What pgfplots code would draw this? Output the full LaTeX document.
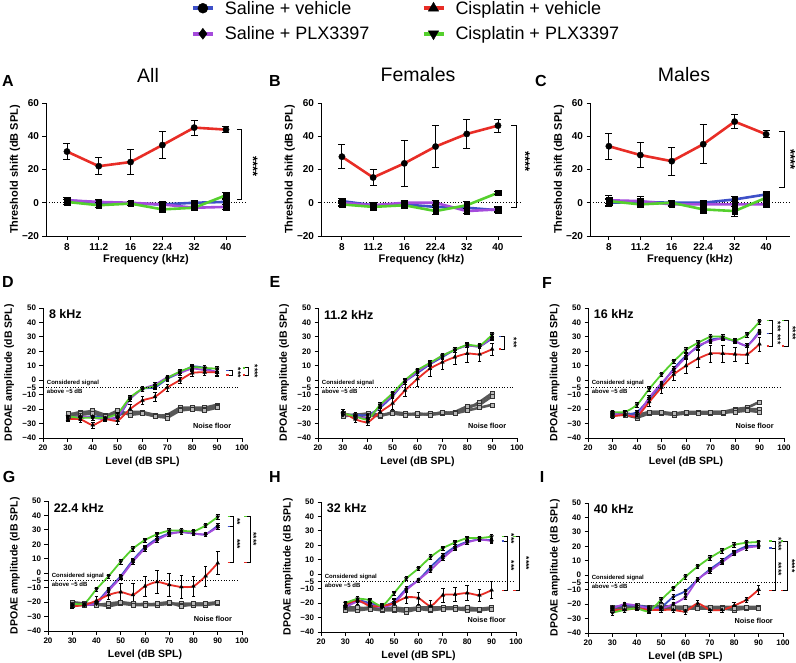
\documentclass[border=0pt]{standalone}
\usepackage{pgfplots}
\pgfplotsset{compat=1.18}
\usepackage{fontspec}
\setmainfont{Liberation Sans}
\usetikzlibrary{calc}

\definecolor{cblue}{RGB}{62,80,200}
\definecolor{cpurp}{RGB}{165,75,220}
\definecolor{cred}{RGB}{232,45,38}
\definecolor{cgreen}{RGB}{85,208,45}
\definecolor{cgray}{RGB}{88,88,88}

\pgfplotsset{
  base/.style={scale only axis, clip=false, axis x line*=bottom, axis y line*=left,
    axis line style={line width=0.9pt, black, -}, tick align=outside, major tick length=3.5pt,
    every tick/.style={black, line width=0.9pt}},
  thr/.style={base, height=133pt, ymin=-20, ymax=60, ytick={-20,0,20,40,60},
    yticklabels={−20,0,20,40,60}, xtick={0,1,2,3,4,5}, xticklabels={8,11.2,16,22.4,32,40},
    ticklabel style={font=\bfseries\fontsize{10}{12}\selectfont},
    xlabel={Frequency (kHz)}, ylabel={Threshold shift (dB SPL)},
    label style={font=\bfseries\fontsize{11}{13}\selectfont},
    xlabel style={at={(axis description cs:0.5,-0.18)}, anchor=center},
    ylabel style={at={(axis description cs:-0.155,0.5)}, anchor=center}},
  dp/.style={base, height=130pt, xmin=20, xmax=100, ymin=-40, ymax=50,
    xtick={20,30,40,50,60,70,80,90,100}, xticklabels={20,30,40,50,60,70,80,90,100},
    ytick={-40,-30,-20,-10,-5,0,10,20,30,40,50},
    yticklabels={−40,−30,−20,−10,−5,0,10,20,30,40,50},
    ticklabel style={font=\bfseries\fontsize{8}{9}\selectfont},
    xlabel={Level (dB SPL)}, ylabel={DPOAE amplitude (dB SPL)},
    label style={font=\bfseries\fontsize{10.5}{12}\selectfont},
    xlabel style={at={(axis description cs:0.5,-0.18)}, anchor=center},
    ylabel style={at={(axis description cs:-0.17,0.5)}, anchor=center}},
  % threshold series
  tsv/.style={cblue, line width=2.6pt, mark=square*, mark size=2.8pt, mark options={black, fill=black, line width=0.3pt}},
  tsp/.style={cpurp, line width=2.6pt, mark=square*, mark size=2.8pt, mark options={black, fill=black, line width=0.3pt}},
  tcv/.style={cred, line width=2.6pt, mark=*, mark size=3.2pt, mark options={black, fill=black, line width=0.3pt}},
  tcp/.style={cgreen, line width=2.6pt, mark=square*, mark size=2.8pt, mark options={black, fill=black, line width=0.3pt}},
  teb/.style={/pgfplots/error bars/y dir=both, /pgfplots/error bars/y explicit,
    /pgfplots/error bars/error bar style={black, line width=0.9pt},
    /pgfplots/error bars/error mark options={rotate=90, black, mark size=3.5pt, line width=0.9pt}},
  % dpoae series
  dsv/.style={cblue, line width=1.8pt, smooth, tension=0.4, mark=*, mark size=1.7pt, mark options={black, fill=black, line width=0.3pt}},
  dsp/.style={cpurp, line width=1.8pt, smooth, tension=0.4, mark=diamond*, mark size=2.2pt, mark options={black, fill=black, line width=0.3pt}},
  dcv/.style={cred, line width=1.8pt, smooth, tension=0.4, mark=triangle*, mark size=2.2pt, mark options={black, fill=black, line width=0.3pt}},
  dcp/.style={cgreen, line width=1.8pt, smooth, tension=0.4, mark=triangle*, mark size=2.2pt, mark options={rotate=180, black, fill=black, line width=0.3pt}},
  dng/.style={cgray, line width=2.6pt, mark=square*, mark size=2pt, mark options={draw=black!80, fill=gray!55, line width=0.5pt}},
  deb/.style={/pgfplots/error bars/y dir=both, /pgfplots/error bars/y explicit,
    /pgfplots/error bars/error bar style={black, line width=0.6pt},
    /pgfplots/error bars/error mark options={rotate=90, black, mark size=1.8pt, line width=0.6pt}},
  debf/.style={/pgfplots/error bars/y dir=both, /pgfplots/error bars/y fixed=#1,
    /pgfplots/error bars/error bar style={black, line width=0.6pt},
    /pgfplots/error bars/error mark options={rotate=90, black, mark size=1.8pt, line width=0.6pt}},
}

\newcommand{\dpdeco}[1]{%
  \draw[dotted, line width=0.7pt] (axis cs:20,-5) -- (axis cs:99,-5);
  \node[anchor=west, font=\bfseries\fontsize{12.5}{14}\selectfont] at (axis cs:21,45.5) {#1};
  \node[anchor=south west, inner sep=0.5pt, font=\bfseries\fontsize{6}{7}\selectfont] at (axis cs:21.3,-4.3) {Considered signal};
  \node[anchor=north west, inner sep=0.5pt, font=\bfseries\fontsize{6}{7}\selectfont] at (axis cs:21.3,-5.8) {above −5 dB};
  \node[font=\bfseries\fontsize{7.3}{8}\selectfont] at (axis cs:88,-31.5) {Noise floor};
}
% bracket: x, ytop, ybot, coltop, colbot, stars, xstar
\newcommand{\brk}[7]{%
  \draw[line width=0.7pt] ([xshift=-3.5pt]axis cs:#1,#2) -- (axis cs:#1,#2) -- (axis cs:#1,#3) -- ([xshift=-3.5pt]axis cs:#1,#3);
  \draw[#4, line width=1.4pt] ([xshift=-6pt]axis cs:#1,#2) -- ([xshift=-3.5pt]axis cs:#1,#2);
  \draw[#5, line width=1.4pt] ([xshift=-6pt]axis cs:#1,#3) -- ([xshift=-3.5pt]axis cs:#1,#3);
  \node[rotate=-90, inner sep=0pt, font=\bfseries\fontsize{8.5}{8.5}\selectfont] at ($(axis cs:#7,#2)!0.5!(axis cs:#7,#3)$) {#6};
}

\begin{document}
\begin{tikzpicture}
\path[use as bounding box] (0pt,0pt) rectangle (796pt,-662pt);

% ---------------- Legend ----------------
\begin{axis}[hide axis, scale only axis, width=10pt, height=10pt, at={(406pt,-21pt)}, anchor=center,
  xmin=0, xmax=1, ymin=0, ymax=1, legend columns=2, legend cell align=left,
  legend style={at={(0.5,0.5)}, anchor=center, draw=none, fill=none,
    font=\fontsize{18}{20}\selectfont, column sep=8pt, row sep=7pt},
  legend image code/.code={\draw[mark repeat=2, mark phase=2, #1] plot coordinates {(0pt,0pt) (10pt,0pt) (20pt,0pt)};}]
\addlegendimage{cblue, line width=4pt, mark=*, mark size=5pt, mark options={black, fill=black, line width=0.4pt}}
\addlegendentry{Saline + vehicle\rule{42pt}{0pt}}
\addlegendimage{cred, line width=4pt, mark=triangle*, mark size=6pt, mark options={black, fill=black, line width=0.4pt}}
\addlegendentry{Cisplatin + vehicle}
\addlegendimage{cpurp, line width=4pt, mark=diamond*, mark size=5.5pt, mark options={black, fill=black, line width=0.4pt}}
\addlegendentry{Saline + PLX3397\rule{42pt}{0pt}}
\addlegendimage{cgreen, line width=4pt, mark=triangle*, mark size=6pt, mark options={rotate=180, black, fill=black, line width=0.4pt}}
\addlegendentry{Cisplatin + PLX3397}
\end{axis}

% ---------------- A ----------------
\begin{axis}[thr, width=200pt, xmin=-0.66, xmax=5.63, at={(46pt,-236pt)}, anchor=south west]
\draw[dotted, line width=0.8pt] (axis cs:-0.66,0) -- (axis cs:5.63,0);
\addplot[tsv, teb] coordinates {(0,1.5) +- (0,1.5) (1,0) +- (0,1.5) (2,-0.5) +- (0,1) (3,-1) +- (0,1.5) (4,0) +- (0,1.5) (5,0.5) +- (0,1.5)};
\addplot[tsp, teb] coordinates {(0,1.5) +- (0,1.5) (1,0.5) +- (0,1.5) (2,0) +- (0,1) (3,-1) +- (0,1.5) (4,-3) +- (0,1.5) (5,-2.5) +- (0,1.5)};
\addplot[tcp, teb] coordinates {(0,0.5) +- (0,1.5) (1,-1.5) +- (0,1.5) (2,-0.5) +- (0,1) (3,-4) +- (0,2) (4,-3) +- (0,1.5) (5,4.5) +- (0,2)};
\addplot[tcv, teb] coordinates {(0,30.8) +- (0,5) (1,22) +- (0,5) (2,24.5) +- (0,7.5) (3,34.7) +- (0,8) (4,45.2) +- (0,4.5) (5,44) +- (0,2)};
\draw[line width=0.9pt] (axis cs:5.34,44) -- (axis cs:5.5,44) -- (axis cs:5.5,2) -- (axis cs:5.34,2);
\node[rotate=-90, font=\bfseries\fontsize{13}{13}\selectfont] at (axis cs:5.85,22) {****};
\end{axis}

% ---------------- B ----------------
\begin{axis}[thr, width=201pt, xmin=-0.67, xmax=5.77, at={(321pt,-236pt)}, anchor=south west]
\draw[dotted, line width=0.8pt] (axis cs:-0.67,0) -- (axis cs:5.77,0);
\addplot[tsv, teb] coordinates {(0,1) +- (0,1.5) (1,-1.5) +- (0,1.5) (2,-1) +- (0,1.5) (3,-2.5) +- (0,1.5) (4,-3) +- (0,1.5) (5,-4.5) +- (0,1.5)};
\addplot[tsp, teb] coordinates {(0,0) +- (0,1.5) (1,-1.5) +- (0,1.5) (2,0) +- (0,1.5) (3,0) +- (0,1.5) (4,-5) +- (0,1.5) (5,-4) +- (0,1.5)};
\addplot[tcp, teb] coordinates {(0,-1) +- (0,1.5) (1,-2.5) +- (0,1.5) (2,-1.5) +- (0,1.5) (3,-5) +- (0,2) (4,-1.5) +- (0,2) (5,6) +- (0,1)};
\addplot[tcv, teb] coordinates {(0,27.7) +- (0,7.3) (1,15.2) +- (0,4.6) (2,23.7) +- (0,14) (3,33.8) +- (0,12.8) (4,41.4) +- (0,9) (5,46.4) +- (0,4)};
\draw[line width=0.9pt] (axis cs:5.42,46.3) -- (axis cs:5.58,46.3) -- (axis cs:5.58,-2.6) -- (axis cs:5.42,-2.6);
\node[rotate=-90, font=\bfseries\fontsize{13}{13}\selectfont] at (axis cs:5.88,25) {****};
\end{axis}

% ---------------- C ----------------
\begin{axis}[thr, width=200pt, xmin=-0.6, xmax=5.76, at={(590pt,-236pt)}, anchor=south west]
\draw[dotted, line width=0.8pt] (axis cs:-0.6,0) -- (axis cs:5.76,0);
\addplot[tsv, teb] coordinates {(0,0) +- (0,2) (1,0.5) +- (0,2) (2,0) +- (0,1.5) (3,0) +- (0,1.5) (4,2) +- (0,1.5) (5,5) +- (0,1.5)};
\addplot[tsp, teb] coordinates {(0,1.5) +- (0,3) (1,1) +- (0,2.5) (2,-1) +- (0,1.5) (3,-1) +- (0,1.5) (4,-1) +- (0,1.5) (5,-1) +- (0,2)};
\addplot[tcp, teb] coordinates {(0,1) +- (0,1.5) (1,-1) +- (0,1.5) (2,0) +- (0,1.5) (3,-4) +- (0,2.5) (4,-5) +- (0,3) (5,3) +- (0,1.5)};
\addplot[tcv, teb] coordinates {(0,34) +- (0,7.9) (1,28.7) +- (0,7.7) (2,25) +- (0,8.3) (3,35.2) +- (0,11.7) (4,48.8) +- (0,4.2) (5,41.2) +- (0,2.1)};
\draw[line width=0.9pt] (axis cs:5.41,42.8) -- (axis cs:5.57,42.8) -- (axis cs:5.57,9.3) -- (axis cs:5.41,9.3);
\node[rotate=-90, font=\bfseries\fontsize{13}{13}\selectfont] at (axis cs:5.78,26) {****};
\end{axis}

% ---------------- D (8 kHz) ----------------
\begin{axis}[dp, width=199pt, at={(43pt,-438pt)}, anchor=south west]
\addplot[dng] coordinates {(30,-24)(35,-22)(40,-22)(45,-25)(50,-22)(55,-23)(60,-22)(65,-25)(70,-24)(75,-19)(80,-19)(85,-19)(90,-17)};
\addplot[dng] coordinates {(30,-25)(35,-23)(40,-21)(45,-24)(50,-24)(55,-22)(60,-22)(65,-24)(70,-25)(75,-20)(80,-20)(85,-20)(90,-18)};
\addplot[dng] coordinates {(30,-23)(35,-24)(40,-23)(45,-25)(50,-21)(55,-24)(60,-23)(65,-25)(70,-26)(75,-21)(80,-20)(85,-21)(90,-19)};
\addplot[dsv, debf=1.5] coordinates {(30,-25)(35,-26)(40,-25)(45,-26)(50,-26)(55,-13)(60,-6)(65,-5)(70,1)(75,5)(80,9.5)(85,8.5)(90,5)};
\addplot[dsp, debf=1.5] coordinates {(30,-26)(35,-25)(40,-26)(45,-27)(50,-25)(55,-13)(60,-6)(65,-3)(70,2)(75,5)(80,8)(85,7)(90,6)};
\addplot[dcv, deb] coordinates {(30,-27) +- (0,1.5) (35,-27) +- (0,2) (40,-31) +- (0,2) (45,-27) +- (0,1.5) (50,-28) +- (0,2.5) (55,-20) +- (0,3) (60,-14) +- (0,3) (65,-11.5) +- (0,3) (70,-5) +- (0,2.5) (75,0) +- (0,2) (80,5) +- (0,2) (85,5.5) +- (0,2) (90,5.5) +- (0,2.5)};
\addplot[dcp, debf=1.5] coordinates {(30,-25)(35,-26)(40,-26)(45,-26)(50,-23)(55,-12)(60,-6)(65,-4)(70,1.5)(75,6)(80,9)(85,8.5)(90,8)};
\dpdeco{8 kHz}
\brk{96}{6.9}{3.5}{cblue}{cred}{***}{98.4}
\brk{102.7}{8.6}{3.5}{cgreen}{cred}{****}{105.1}
\end{axis}

% ---------------- E (11.2 kHz) ----------------
\begin{axis}[dp, width=199pt, at={(318pt,-438pt)}, anchor=south west]
\addplot[dng] coordinates {(30,-24)(35,-24)(40,-23)(45,-24)(50,-23)(55,-24)(60,-23)(65,-24)(70,-23)(75,-23)(80,-20)(85,-15)(90,-9)};
\addplot[dng] coordinates {(30,-23)(35,-25)(40,-24)(45,-25)(50,-22)(55,-23)(60,-24)(65,-23)(70,-23)(75,-22)(80,-18)(85,-17)(90,-11)};
\addplot[dng] coordinates {(30,-25)(35,-24)(40,-24)(45,-24)(50,-23)(55,-24)(60,-23)(65,-24)(70,-22)(75,-23)(80,-21)(85,-19)(90,-17)};
\addplot[dsv, debf=1.5] coordinates {(30,-24)(35,-24)(40,-24)(45,-19)(50,-11)(55,-1)(60,5)(65,11)(70,16)(75,21)(80,24)(85,23.5)(90,29)};
\addplot[dsp, debf=1.5] coordinates {(30,-24)(35,-25)(40,-26)(45,-18)(50,-10)(55,-1)(60,6)(65,11.5)(70,17)(75,21)(80,24)(85,23.5)(90,30)};
\addplot[dcv, deb] coordinates {(30,-22) +- (0,2) (35,-27) +- (0,2) (40,-29) +- (0,2) (45,-22) +- (0,3) (50,-16) +- (0,4) (55,-7) +- (0,4) (60,1) +- (0,5) (65,8) +- (0,5) (70,12.5) +- (0,5) (75,16) +- (0,5) (80,18.5) +- (0,6) (85,18) +- (0,5) (90,21.5) +- (0,4)};
\addplot[dcp, debf=1.5] coordinates {(30,-23)(35,-25)(40,-27)(45,-17)(50,-9)(55,0)(60,7)(65,12)(70,17)(75,21)(80,24.5)(85,24)(90,31.5)};
\dpdeco{11.2 kHz}
\brk{95.1}{30.2}{21.6}{cblue}{cred}{***}{98.7}
\end{axis}

% ---------------- F (16 kHz) ----------------
\begin{axis}[dp, width=196pt, at={(588pt,-438pt)}, anchor=south west]
\addplot[dng] coordinates {(30,-23)(35,-23)(40,-24)(45,-22)(50,-22)(55,-24)(60,-22)(65,-22)(70,-22)(75,-22)(80,-20)(85,-19)(90,-15)};
\addplot[dng] coordinates {(30,-24)(35,-24)(40,-26)(45,-23)(50,-23)(55,-24)(60,-23)(65,-23)(70,-23)(75,-23)(80,-21)(85,-20)(90,-20)};
\addplot[dng] coordinates {(30,-23)(35,-24)(40,-25)(45,-22)(50,-22)(55,-23)(60,-22)(65,-23)(70,-22)(75,-22)(80,-22)(85,-21)(90,-22)};
\addplot[dsv, debf=1.5] coordinates {(30,-24)(35,-24)(40,-22)(45,-13)(50,-3)(55,8)(60,17)(65,23)(70,28)(75,29)(80,27)(85,24)(90,34)};
\addplot[dsp, debf=1.5] coordinates {(30,-23)(35,-24)(40,-24)(45,-12)(50,-2)(55,7)(60,16)(65,24)(70,27)(75,29)(80,27)(85,24)(90,33)};
\addplot[dcv, deb] coordinates {(30,-25) +- (0,1.5) (35,-24) +- (0,1.5) (40,-25) +- (0,2) (45,-15) +- (0,3) (50,-5) +- (0,4) (55,4) +- (0,4) (60,10) +- (0,5) (65,15) +- (0,6) (70,18.5) +- (0,6) (75,18.5) +- (0,6) (80,18) +- (0,5) (85,18) +- (0,6) (90,25) +- (0,5)};
\addplot[dcp, debf=1.5] coordinates {(30,-22)(35,-22)(40,-17)(45,-6)(50,4)(55,13)(60,21)(65,26)(70,30)(75,30)(80,27.5)(85,31.5)(90,40.5)};
\dpdeco{16 kHz}
\brk{95.4}{41.3}{32.5}{cgreen}{cblue}{***}{97.5}
\brk{95.4}{32.5}{23.7}{cblue}{cred}{***}{97.5}
\brk{101.6}{41.3}{23.7}{cgreen}{cred}{****}{103.6}
\end{axis}

% ---------------- G (22.4 kHz) ----------------
\begin{axis}[dp, width=194pt, at={(48pt,-631pt)}, anchor=south west]
\addplot[dng] coordinates {(30,-21)(35,-22)(40,-21)(45,-23)(50,-21)(55,-22)(60,-21)(65,-22)(70,-21)(75,-21)(80,-21)(85,-21)(90,-21)};
\addplot[dng] coordinates {(30,-22)(35,-21)(40,-22)(45,-22)(50,-20)(55,-21)(60,-22)(65,-22)(70,-21)(75,-22)(80,-22)(85,-22)(90,-21)};
\addplot[dng] coordinates {(30,-20)(35,-21)(40,-22)(45,-21)(50,-20)(55,-22)(60,-22)(65,-21)(70,-20)(75,-23)(80,-21)(85,-21)(90,-20)};
\addplot[dsv, debf=1.5] coordinates {(30,-22)(35,-22)(40,-20)(45,-11)(50,-2)(55,9)(60,18)(65,24)(70,27.5)(75,28.5)(80,27.5)(85,27)(90,33)};
\addplot[dsp, debf=1.5] coordinates {(30,-22)(35,-22)(40,-21)(45,-12)(50,-3)(55,8)(60,17)(65,23)(70,27)(75,28.5)(80,27.5)(85,27)(90,32)};
\addplot[dcv, deb] coordinates {(30,-23) +- (0,1.5) (35,-22) +- (0,1.5) (40,-19) +- (0,3) (45,-15) +- (0,3) (50,-13) +- (0,6) (55,-15) +- (0,8) (60,-9) +- (0,7) (65,-6) +- (0,8) (70,-8) +- (0,8) (75,-9.5) +- (0,8) (80,-9) +- (0,7) (85,-2) +- (0,7) (90,7) +- (0,8)};
\addplot[dcp, debf=1.5] coordinates {(30,-21)(35,-21)(40,-11)(45,-2)(50,8)(55,17)(60,23)(65,27)(70,29.5)(75,29.5)(80,29)(85,33)(90,39)};
\dpdeco{22.4 kHz}
\brk{96.6}{39.4}{32.4}{cgreen}{cblue}{**}{98.1}
\brk{96.6}{32.4}{7.6}{cblue}{cred}{***}{98.1}
\brk{103.4}{39.4}{7.6}{cgreen}{cred}{****}{104.8}
\end{axis}

% ---------------- H (32 kHz) ----------------
\begin{axis}[dp, width=195pt, at={(321pt,-632pt)}, anchor=south west]
\addplot[dng] coordinates {(30,-24)(35,-24)(40,-23)(45,-24)(50,-23)(55,-24)(60,-23)(65,-23)(70,-23)(75,-23)(80,-24)(85,-24)(90,-23)};
\addplot[dng] coordinates {(30,-25)(35,-25)(40,-24)(45,-25)(50,-25)(55,-26)(60,-24)(65,-25)(70,-24)(75,-24)(80,-25)(85,-25)(90,-24)};
\addplot[dng] coordinates {(30,-23)(35,-23)(40,-24)(45,-24)(50,-24)(55,-24)(60,-24)(65,-24)(70,-24)(75,-24)(80,-23)(85,-24)(90,-24)};
\addplot[dsv, debf=1.5] coordinates {(30,-22)(35,-18)(40,-20)(45,-22)(50,-19)(55,-10)(60,-4)(65,5)(70,13)(75,19)(80,22.5)(85,24)(90,23.5)};
\addplot[dsp, debf=1.5] coordinates {(30,-23)(35,-19)(40,-21)(45,-23)(50,-20)(55,-11)(60,-4)(65,3)(70,11)(75,18)(80,22)(85,24)(90,23)};
\addplot[dcv, deb] coordinates {(30,-21) +- (0,1.5) (35,-18) +- (0,1.5) (40,-22) +- (0,2) (45,-22) +- (0,2) (50,-20) +- (0,3) (55,-16) +- (0,4) (60,-16.5) +- (0,4) (65,-22) +- (0,4) (70,-14.5) +- (0,5) (75,-14) +- (0,5) (80,-13) +- (0,5) (85,-14.5) +- (0,4) (90,-11) +- (0,6)};
\addplot[dcp, debf=1.5] coordinates {(30,-20)(35,-17)(40,-18)(45,-22)(50,-13)(55,-3)(60,4)(65,12)(70,18)(75,22)(80,25)(85,25)(90,26)};
\dpdeco{32 kHz}
\brk{96.6}{26.1}{22.9}{cgreen}{cblue}{***}{98.1}
\brk{96.6}{22.9}{-11.3}{cblue}{cred}{***}{98.1}
\brk{101.4}{26.1}{-11.3}{cgreen}{cred}{****}{104.2}
\end{axis}

% ---------------- I (40 kHz) ----------------
\begin{axis}[dp, width=195pt, at={(588pt,-633pt)}, anchor=south west]
\addplot[dng] coordinates {(30,-22)(35,-22)(40,-21)(45,-22)(50,-22)(55,-22)(60,-22)(65,-22)(70,-22)(75,-22)(80,-22)(85,-22)(90,-22)};
\addplot[dng] coordinates {(30,-23)(35,-23)(40,-22)(45,-23)(50,-23)(55,-23)(60,-23)(65,-23)(70,-23)(75,-23)(80,-24)(85,-23)(90,-23)};
\addplot[dng] coordinates {(30,-24)(35,-22)(40,-22)(45,-22)(50,-21)(55,-22)(60,-22)(65,-23)(70,-22)(75,-23)(80,-23)(85,-22)(90,-23)};
\addplot[dsv, debf=1.5] coordinates {(30,-22)(35,-21)(40,-21)(45,-22)(50,-22)(55,-15)(60,-11)(65,-3)(70,4)(75,10)(80,16)(85,20)(90,20.5)};
\addplot[dsp, debf=1.5] coordinates {(30,-23)(35,-20)(40,-21)(45,-23)(50,-23)(55,-20)(60,-15)(65,-3)(70,3)(75,9)(80,15)(85,19)(90,20)};
\addplot[dcv, deb] coordinates {(30,-24) +- (0,1.5) (35,-24) +- (0,1.5) (40,-23) +- (0,1.5) (45,-24) +- (0,2) (50,-24) +- (0,1.5) (55,-24) +- (0,1.5) (60,-25) +- (0,2) (65,-19.5) +- (0,2) (70,-24) +- (0,1.5) (75,-24) +- (0,1.5) (80,-21) +- (0,2) (85,-17) +- (0,2) (90,-10) +- (0,3)};
\addplot[dcp, debf=1.5] coordinates {(30,-26)(35,-24)(40,-23)(45,-25)(50,-17)(55,-9)(60,-1)(65,6)(70,12)(75,17)(80,21)(85,22.5)(90,23)};
\dpdeco{40 kHz}
\brk{96.8}{23.6}{18.9}{cgreen}{cblue}{****}{98.2}
\brk{96.8}{18.9}{-10.6}{cblue}{cred}{****}{98.2}
\brk{101.6}{23.6}{-10.6}{cgreen}{cred}{****}{103.7}
\end{axis}

% ---------------- titles and panel letters ----------------
\node[font=\fontsize{19.5}{22}\selectfont] at (148pt,-75pt) {All};
\node[font=\fontsize{19.5}{22}\selectfont] at (418pt,-75pt) {Females};
\node[font=\fontsize{19.5}{22}\selectfont] at (684pt,-75pt) {Males};
\node[font=\bfseries\fontsize{16}{18}\selectfont] at (8pt,-81pt) {A};
\node[font=\bfseries\fontsize{16}{18}\selectfont] at (275pt,-81pt) {B};
\node[font=\bfseries\fontsize{16}{18}\selectfont] at (541pt,-81pt) {C};
\node[font=\bfseries\fontsize{16}{18}\selectfont] at (8pt,-282pt) {D};
\node[font=\bfseries\fontsize{16}{18}\selectfont] at (275pt,-282pt) {E};
\node[font=\bfseries\fontsize{16}{18}\selectfont] at (547pt,-283pt) {F};
\node[font=\bfseries\fontsize{16}{18}\selectfont] at (9pt,-477pt) {G};
\node[font=\bfseries\fontsize{16}{18}\selectfont] at (275pt,-477pt) {H};
\node[font=\bfseries\fontsize{16}{18}\selectfont] at (542pt,-477pt) {I};
\end{tikzpicture}
\end{document}
